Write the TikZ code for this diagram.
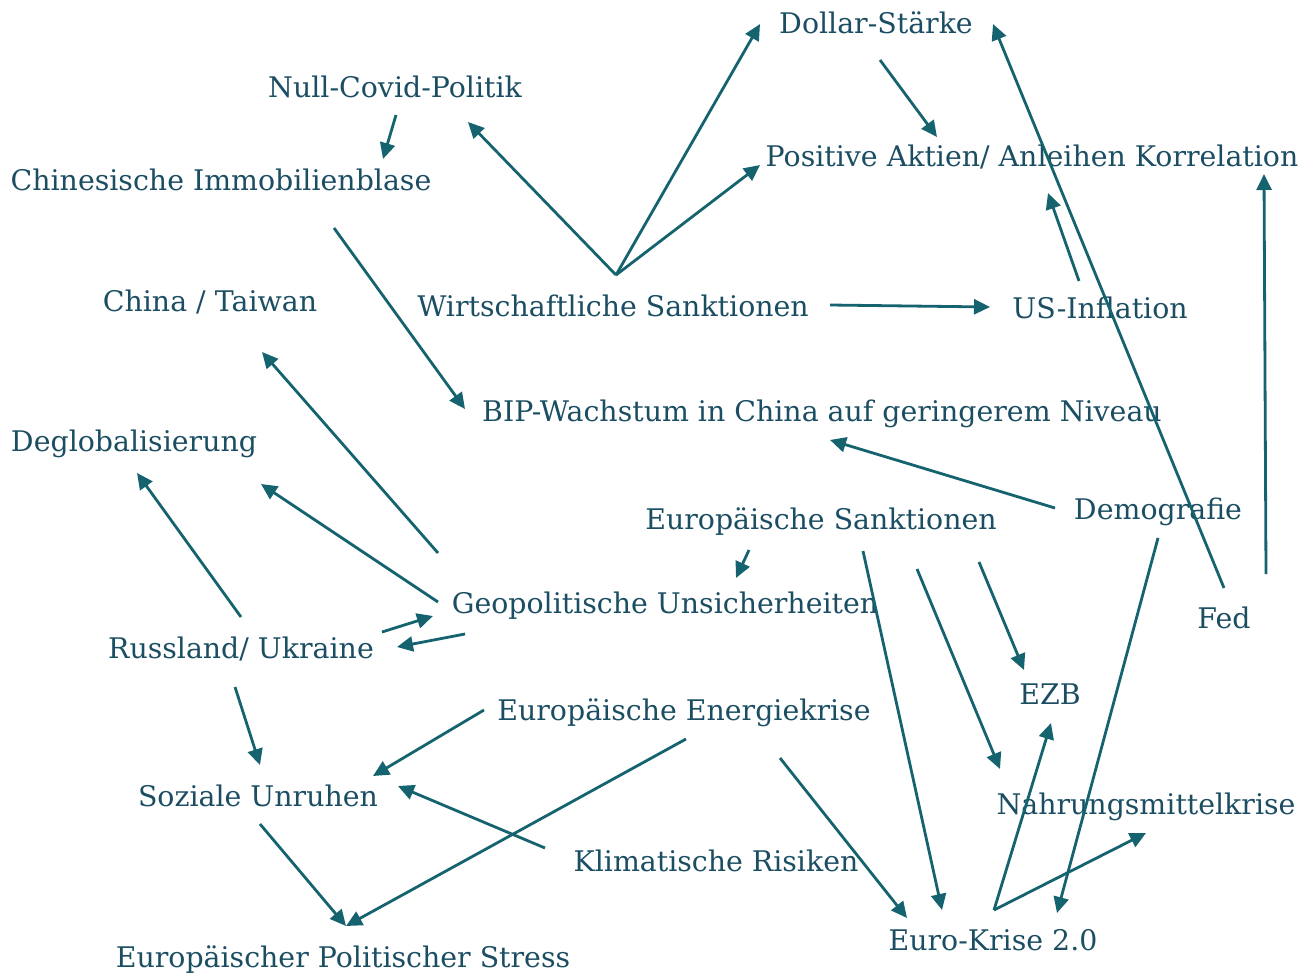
\documentclass[tikz,border=0pt]{standalone}
\usepackage{fontspec}
\setmainfont{DejaVu Serif}
\usetikzlibrary{arrows.meta}
\definecolor{txtcol}{HTML}{1C4E63}
\definecolor{arrcol}{HTML}{14636E}
\begin{document}
\begin{tikzpicture}[x=0.5pt,y=-0.5pt,
        arrow/.style = {line width=1.4pt,arrcol,-{Triangle[length=8pt,width=7.5pt]}},
        lbl/.style = {anchor=base,inner sep=0pt,text=txtcol,font=\fontsize{14.2pt}{16pt}\selectfont}]
                \useasboundingbox (0,0) rectangle (1301,975);

                % labels
                \node[lbl] (dol) at (876,33)  {Dollar-Stärke};
                \node[lbl] (ncp) at (395,97)  {Null-Covid-Politik};
                \node[lbl] (pak) at (1032,166) {Positive Aktien/ Anleihen Korrelation};
                \node[lbl] (cib) at (221,190) {Chinesische Immobilienblase};
                \node[lbl] (cta) at (210,311) {China / Taiwan};
                \node[lbl] (wis) at (613,316) {Wirtschaftliche Sanktionen};
                \node[lbl] (usi) at (1100,318) {US-Inflation};
                \node[lbl] (bip) at (822,421) {BIP-Wachstum in China auf geringerem Niveau};
                \node[lbl] (deg) at (134,451) {Deglobalisierung};
                \node[lbl] (dem) at (1158,519) {Demografie};
                \node[lbl] (eus) at (821,529) {Europäische Sanktionen};
                \node[lbl] (geo) at (665,613) {Geopolitische Unsicherheiten};
                \node[lbl] (fed) at (1224,628) {Fed};
                \node[lbl] (rus) at (241,658) {Russland/ Ukraine};
                \node[lbl] (ezb) at (1050,704) {EZB};
                \node[lbl] (ene) at (684,720) {Europäische Energiekrise};
                \node[lbl] (soz) at (258,806) {Soziale Unruhen};
                \node[lbl] (nah) at (1146,814) {Nahrungsmittelkrise};
                \node[lbl] (kli) at (716,871) {Klimatische Risiken};
                \node[lbl] (eur) at (993,950) {Euro-Krise 2.0};
                \node[lbl] (eps) at (343,967) {Europäischer Politischer Stress};

                % arrow ends
                \coordinate (ncp-s)  at (396,115);
                \coordinate (ncp-se) at (468,122);
                \coordinate (cib-n)  at (383,159);
                \coordinate (cib-s)  at (334,228);
                \coordinate (wis-n)  at (616,275);
                \coordinate (wis-e)  at (830,305);
                \coordinate (dol-w)  at (760,24);
                \coordinate (dol-s)  at (880,60);
                \coordinate (dol-e)  at (993,24);
                \coordinate (pak-w)  at (760,165);
                \coordinate (pak-n)  at (937,137);
                \coordinate (pak-s)  at (1048,193);
                \coordinate (pak-se) at (1264,174);
                \coordinate (usi-w)  at (990,307);
                \coordinate (usi-n)  at (1079,281);
                \coordinate (bip-w)  at (465,409);
                \coordinate (bip-s)  at (830,440);
                \coordinate (dem-w)  at (1055,508);
                \coordinate (dem-s)  at (1158,538);
                \coordinate (fed-n)  at (1224,588);
                \coordinate (fed-ne) at (1266,574);
                \coordinate (eus-sw) at (749,550);
                \coordinate (eus-s)  at (863,551);
                \coordinate (eus-se) at (917,569);
                \coordinate (eus-e)  at (979,562);
                \coordinate (geo-n)  at (736,578);
                \coordinate (geo-nw) at (438,553);
                \coordinate (geo-w)  at (438,602);
                \coordinate (geo-sw) at (433,616);
                \coordinate (geo-ws) at (465,634);
                \coordinate (cta-se) at (262,352);
                \coordinate (deg-se) at (261,484);
                \coordinate (deg-s)  at (137,473);
                \coordinate (rus-n)  at (241,617);
                \coordinate (rus-ne) at (382,632);
                \coordinate (rus-e)  at (397,647);
                \coordinate (rus-s)  at (235,687);
                \coordinate (soz-n)  at (260,765);
                \coordinate (soz-ne) at (373,776);
                \coordinate (soz-e)  at (398,786);
                \coordinate (soz-s)  at (260,824);
                \coordinate (ene-w)  at (484,710);
                \coordinate (ene-s)  at (686,739);
                \coordinate (ene-se) at (780,758);
                \coordinate (kli-w)  at (545,848);
                \coordinate (ezb-n)  at (1024,670);
                \coordinate (ezb-s)  at (1051,723);
                \coordinate (nah-nw) at (1000,769);
                \coordinate (nah-s)  at (1146,833);
                \coordinate (eur-n)  at (942,910);
                \coordinate (eur-nw) at (907,918);
                \coordinate (eur-ne) at (1057,913);
                \coordinate (eur-nn) at (994,910);
                \coordinate (eps-n)  at (346,926);

                % connectors
                \draw[arrow] (ncp-s) -- (cib-n);
                \draw[arrow] (cib-s) -- (bip-w);
                \draw[arrow] (wis-n) -- (ncp-se);
                \draw[arrow] (wis-n) -- (dol-w);
                \draw[arrow] (wis-n) -- (pak-w);
                \draw[arrow] (wis-e) -- (usi-w);
                \draw[arrow] (dol-s) -- (pak-n);
                \draw[arrow] (usi-n) -- (pak-s);
                \draw[arrow] (fed-n) -- (dol-e);
                \draw[arrow] (fed-ne) -- (pak-se);
                \draw[arrow] (dem-w) -- (bip-s);
                \draw[arrow] (dem-s) -- (eur-ne);
                \draw[arrow] (eus-sw) -- (geo-n);
                \draw[arrow] (eus-s) -- (eur-n);
                \draw[arrow] (eus-se) -- (nah-nw);
                \draw[arrow] (eus-e) -- (ezb-n);
                \draw[arrow] (geo-nw) -- (cta-se);
                \draw[arrow] (geo-w) -- (deg-se);
                \draw[arrow] (rus-n) -- (deg-s);
                \draw[arrow] (rus-ne) -- (geo-sw);
                \draw[arrow] (geo-ws) -- (rus-e);
                \draw[arrow] (rus-s) -- (soz-n);
                \draw[arrow] (ene-w) -- (soz-ne);
                \draw[arrow] (ene-s) -- (eps-n);
                \draw[arrow] (ene-se) -- (eur-nw);
                \draw[arrow] (kli-w) -- (soz-e);
                \draw[arrow] (soz-s) -- (eps-n);
                \draw[arrow] (eur-nn) -- (ezb-s);
                \draw[arrow] (eur-nn) -- (nah-s);
\end{tikzpicture}
\end{document}
